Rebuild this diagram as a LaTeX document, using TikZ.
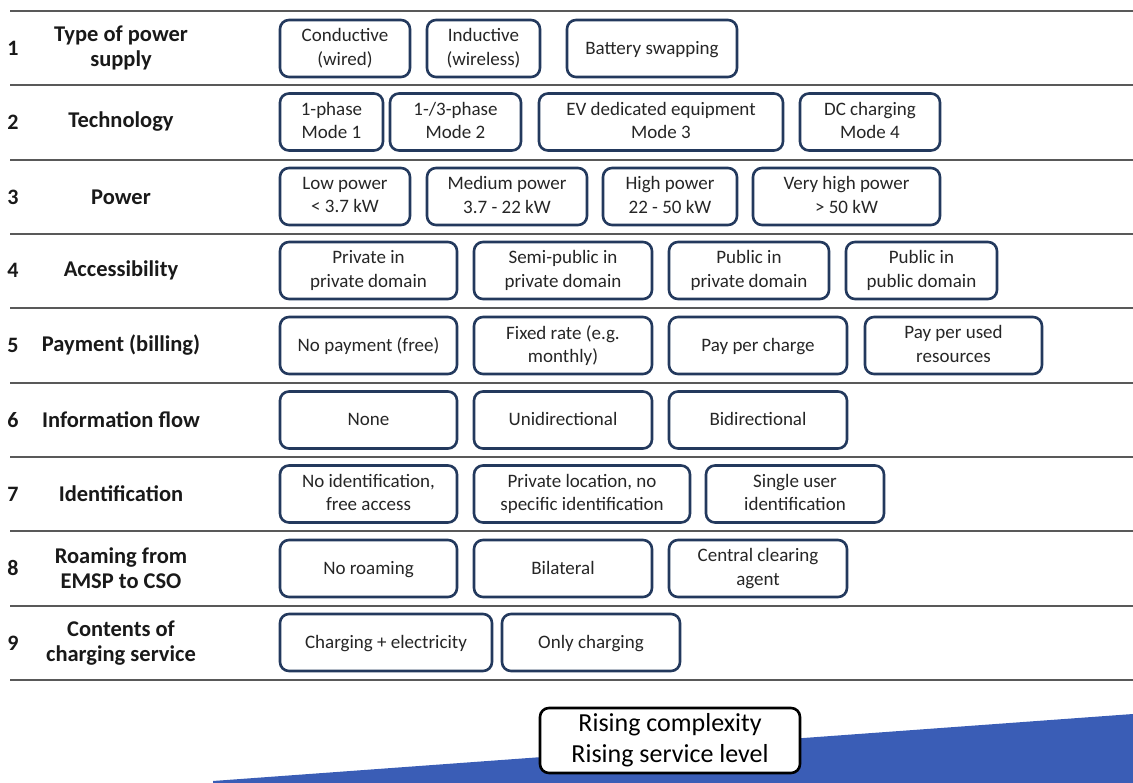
\documentclass[tikz,border=0pt]{standalone}
\usepackage{fontspec}
\setmainfont{Carlito}
% struts that keep cap height centred in the option boxes
\newcommand\topstrut{\rule{0pt}{15pt}}
\newcommand\botstrut{\rule[-3pt]{0pt}{3pt}}
\begin{document}
\begin{tikzpicture}[x=1pt,y=-1pt,
  rule/.style={draw=black!65,line width=1.6pt},
  item/.style={draw=navyline,line width=2.6pt,rounded corners=9pt,fill=white,
    align=center,text=black!85,font=\fontsize{19}{23.5}\selectfont,
    minimum height=57pt,inner sep=1pt,
    execute at begin node=\topstrut,execute at end node=\botstrut},
  rownum/.style={font=\bfseries\fontsize{22}{25}\selectfont,text=black!90},
  rowlabel/.style={font=\bfseries\fontsize{22.5}{25}\selectfont,text=black!90,align=center},
  badge/.style={draw=black,line width=2.6pt,rounded corners=9pt,fill=white,
    align=center,font=\fontsize{26}{31}\selectfont,minimum width=260pt,minimum height=65pt,
    inner sep=1pt}]
\definecolor{navyline}{HTML}{23395D}
\definecolor{rampblue}{HTML}{3A5DB6}
\useasboundingbox (0,0) rectangle (1133,783);

% separator rules
\foreach \y in {11,85,160,234,308,383,457,531,606,680}
  \draw[rule] (10,\y) -- (1133,\y);

% row numbers and headings
\foreach \n/\y in {1/48,2/122,3/197,4/270,5/345,6/420,7/494,8/568,9/643}
  \node[rownum] (n\n) at (13,\y) {\n};
\node[rowlabel] (h1) at (121,48) {Type of power\\supply};
\node[rowlabel] (h2) at (121,122) {Technology};
\node[rowlabel] (h3) at (121,197) {Power};
\node[rowlabel] (h4) at (121,270) {Accessibility};
\node[rowlabel] (h5) at (121,345) {Payment (billing)};
\node[rowlabel] (h6) at (121,420) {Information flow};
\node[rowlabel] (h7) at (121,494) {Identification};
\node[rowlabel] (h8) at (121,568) {Roaming from\\EMSP to CSO};
\node[rowlabel] (h9) at (121,643) {Contents of\\charging service};

% 1 type of power supply
\node[item,minimum width=130pt] (a1) at (345,48.5) {Conductive\\(wired)};
\node[item,minimum width=113pt] (a2) at (483.5,48.5) {Inductive\\(wireless)};
\node[item,minimum width=170pt] (a3) at (652,48.5) {Battery swapping};

% 2 technology
\node[item,minimum width=103pt] (b1) at (331.5,122) {1-phase\\Mode 1};
\node[item,minimum width=131pt] (b2) at (455.5,122) {1-/3-phase\\Mode 2};
\node[item,minimum width=244pt] (b3) at (661,122) {EV dedicated equipment\\Mode 3};
\node[item,minimum width=140pt] (b4) at (870,122) {DC charging\\Mode 4};

% 3 power
\node[item,minimum width=130pt] (c1) at (345,196.5) {Low power\\< 3.7 kW};
\node[item,minimum width=160pt] (c2) at (507,196.5) {Medium power\\3.7 - 22 kW};
\node[item,minimum width=134pt] (c3) at (670,196.5) {High power\\22 - 50 kW};
\node[item,minimum width=187pt] (c4) at (846.5,196.5) {Very high power\\> 50 kW};

% 4 accessibility
\node[item,minimum width=177pt] (d1) at (368.5,270.5) {Private in\\private domain};
\node[item,minimum width=178pt] (d2) at (563,270.5) {Semi-public in\\private domain};
\node[item,minimum width=160pt] (d3) at (749,270.5) {Public in\\private domain};
\node[item,minimum width=151pt] (d4) at (921.5,270.5) {Public in\\public domain};

% 5 payment
\node[item,minimum width=177pt] (e1) at (368.5,345.5) {No payment (free)};
\node[item,minimum width=178pt] (e2) at (563,345.5) {Fixed rate (e.g.\\monthly)};
\node[item,minimum width=178pt] (e3) at (758,345.5) {Pay per charge};
\node[item,minimum width=177pt] (e4) at (953.5,345.5) {Pay per used\\resources};

% 6 information flow
\node[item,minimum width=177pt] (f1) at (368.5,420) {None};
\node[item,minimum width=178pt] (f2) at (563,420) {Unidirectional};
\node[item,minimum width=178pt] (f3) at (758,420) {Bidirectional};

% 7 identification
\node[item,minimum width=177pt] (g1) at (368.5,494) {No identification,\\free access};
\node[item,minimum width=216pt] (g2) at (582,494) {Private location, no\\specific identification};
\node[item,minimum width=178pt] (g3) at (795,494) {Single user\\identification};

% 8 roaming
\node[item,minimum width=177pt] (k1) at (368.5,568.5) {No roaming};
\node[item,minimum width=178pt] (k2) at (563,568.5) {Bilateral};
\node[item,minimum width=178pt] (k3) at (758,568.5) {Central clearing\\agent};

% 9 contents
\node[item,minimum width=212pt] (m1) at (386,642.5) {Charging + electricity};
\node[item,minimum width=178pt] (m2) at (591,642.5) {Only charging};

% rising ramp with caption
\fill[rampblue] (213,781) -- (1133,714) -- (1133,783) -- (213,783) -- cycle;
\node[badge] (rise) at (670,740.5) {Rising complexity\\Rising service level};
\end{tikzpicture}
\end{document}
